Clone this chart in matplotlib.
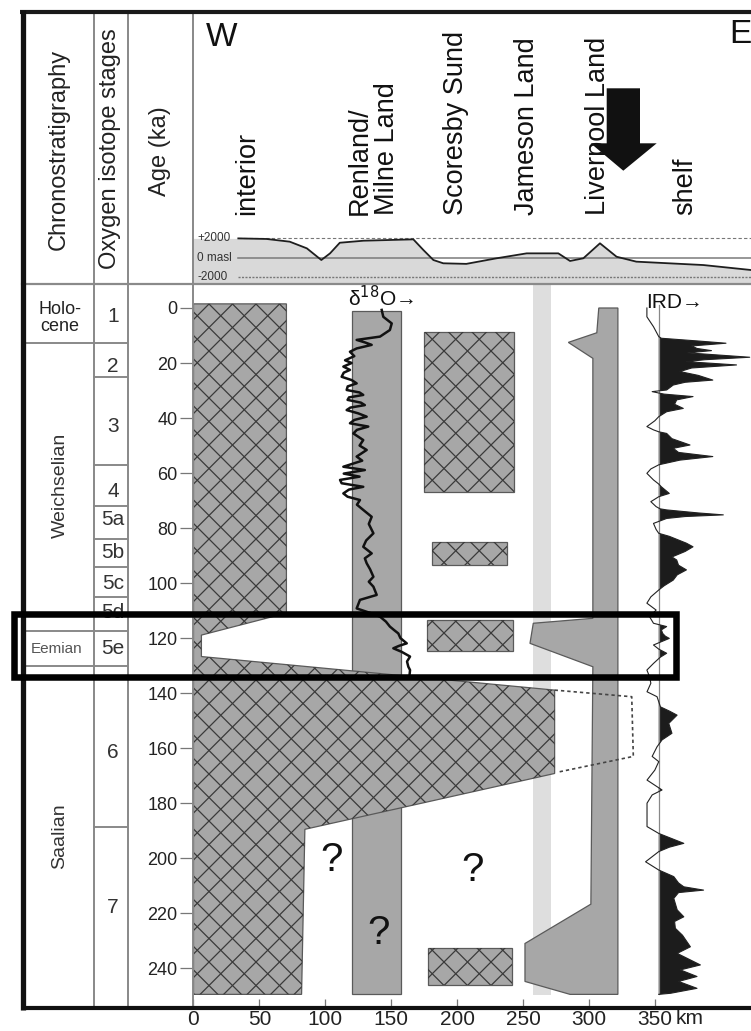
import numpy as np
import matplotlib
matplotlib.use('Agg')
import matplotlib.pyplot as plt
from matplotlib.patches import Polygon, Rectangle
from matplotlib.collections import LineCollection
from matplotlib.transforms import IdentityTransform
from matplotlib.lines import Line2D

plt.rcParams['font.family'] = ['Liberation Sans', 'DejaVu Sans']

# ------------------------------------------------------------------ data
age_ticks = [0, 20, 40, 60, 80, 100, 120, 140, 160, 180, 200, 220, 240]
km_ticks = [0, 50, 100, 150, 200, 250, 300, 350]
km_labels = ['0', '50', '100', '150', '200', '250', '300', '350']

chron_names = ['Holo-\ncene', 'Weichselian', 'Eemian', 'Saalian']
chron_label_age = [3.6, 64.3, 124.0, 192.0]
chron_bounds = [12.6, 117.3, 130.0]

stage_names = ['1', '2', '3', '4', '5a', '5b', '5c', '5d', '5e', '6', '7']
stage_label_age = [3.2, 21.1, 43.1, 66.8, 77.0, 89.0, 100.0, 110.8, 123.6, 161.6, 218.0]
stage_bounds = [12.6, 25.0, 57.0, 72.0, 84.0, 94.3, 105.0, 117.3, 130.0, 188.6]

region_names = ['interior', 'Renland/\nMilne Land', 'Scoresby Sund',
                'Jameson Land', 'Liverpool Land', 'shelf']

# topographic profile (km, m a.s.l.)
profile_km = [34, 55.5, 73, 86, 97, 103.6, 111, 129, 166.8, 174.4, 182, 189.5,
              207, 230, 252.8, 276.8, 285.7, 295.8, 308.4, 321, 336, 386.8, 424]
profile_m = [2000, 1940, 1660, 970, -240, 450, 1550, 1760, 1900, 800, -240, -580,
             -640, -60, 450, 450, -340, -60, 1490, 100, -410, -760, -1290]

# interior / Saalian ice extent (km, ka)
interior_km = [0, 70.5, 70.5, 6, 6, 274, 274, 84.5, 82, 0]
interior_ka = [-1.5, -1.5, 110.9, 118.9, 126.7, 138.9, 169.2, 189.5, 249.5, 249.5]
dashed_km = [274, 332.5, 333.7, 275.6]
dashed_ka = [138.9, 141.3, 163.0, 168.8]

# Scoresby Sund ice boxes
ss_left = [175.0, 181.0, 177.0, 177.7]
ss_right = [243.4, 237.6, 242.6, 241.4]
ss_top = [8.6, 85.2, 113.4, 232.8]
ss_bottom = [67.0, 93.4, 124.6, 246.0]

# Renland record bar
d18o_bar_km = [120.0, 157.2]
d18o_bar_ka = [1.0, 249.5]
# Jameson Land band
jl_band_km = [257.3, 271.2]
jl_band_ka = [-9.0, 249.7]

# Liverpool Land outline
liverpool_km = [307.5, 322, 322, 285.7, 251.5, 251.5, 301.5, 303, 255.3, 257.8,
                303, 303, 284.4, 306]
liverpool_ka = [0, 0, 249.5, 249.5, 244.8, 231, 216.7, 130.4, 121.9, 114.6,
                112.8, 18.3, 12.5, 9]

# delta18O curve
d18o_ka = [0.7, 3.2, 5.6, 8, 10.4, 11.6, 12.5, 13.4, 14.7, 15.9, 17.5, 19.0, 20.0,
           21.3, 22.5, 23.5, 25, 26.2, 27.4, 28.5, 29.8, 30.7, 31.6, 32.5, 33.4,
           34.4, 35.3, 36.2, 37.1, 38.3, 39.5, 40.7, 41.9, 43.1, 44.3, 45.6, 48,
           50, 51.6, 54, 55.5, 57.7, 58.9, 60.2, 61.3, 62.5, 63.7, 65, 66, 67.4,
           68.6, 69.8, 71.5, 73.4, 75.9, 78.5, 81.9, 84.5, 86.8, 89.2, 91, 92.8,
           95, 97.7, 99.5, 101.3, 104.3, 106.1, 109.2, 111, 112.2, 114, 115.8,
           117, 118.3, 120, 121.9, 122.8, 123.7, 125, 126.7, 128.5, 130.4, 131.6, 133]
d18o_km = [142.8, 144, 150.4, 149, 141.5, 123.8, 130, 135.2, 123.8, 118.7, 122, 115,
           120, 113.7, 118.7, 114, 112.4, 120, 123.8, 117, 116.2, 126, 128.8, 118,
           116.9, 127, 130, 119, 116.2, 125, 131.4, 122, 118.7, 132.6, 124, 121.3,
           128.8, 126, 131.4, 123.8, 128, 113.7, 130, 114, 126, 111.2, 112.4, 128.8,
           118, 113.7, 116.9, 126.3, 124, 128.8, 135.2, 133, 136.5, 131, 128.8,
           135.2, 130, 131.4, 134, 136.5, 133, 136.5, 139, 126.3, 123.8, 135,
           141.5, 146, 149, 152, 155.4, 157, 161.8, 156, 151.6, 158, 164.3, 162,
           163, 164.3, 164]

# IRD record (offset from base line, km)
ird_base_km = 353.0
ird_ka = [0, 3.2, 6.8, 10.4, 11.0, 12.0, 12.8, 13.8, 14.7, 15.5, 16.3, 17.9, 18.8,
          19.5, 20.7, 21.8, 23.1, 24.5, 26.2, 27.0, 28.0, 29.8, 30.4, 31.3, 32.2,
          33.4, 35.0, 36.5, 37.7, 39.5, 41.0, 43.1, 44.3, 45.0, 45.6, 47.5, 49.8,
          51.0, 52.5, 54.0, 55.3, 57.0, 58.5, 60.1, 62.5, 64.0, 65.0, 67.4, 68.6,
          70.4, 72.2, 73.0, 73.4, 74.5, 75.2, 75.8, 76.5, 78.3, 80.5, 81.9, 83.0,
          85.5, 86.8, 88.5, 90.5, 91.6, 93.5, 95.2, 97.0, 98.9, 101, 102.5, 105.0,
          107.3, 109.8, 112.2, 114.6, 115.8, 117.0, 118.3, 119.3, 120.1, 121.3,
          122.5, 124.0, 125.5, 127.0, 129.2, 131.6, 134, 136.4, 139.5, 141.3, 145,
          146.5, 148, 151, 154.6, 157, 159.5, 163, 164.9, 168, 171.6, 175.2, 177,
          180, 188.5, 191, 192.5, 194.6, 196, 197.6, 201.3, 204.3, 206.7, 209,
          210.4, 211.6, 212.5, 214.6, 218.8, 221.3, 223, 225.5, 228, 232.2, 234.6,
          238.8, 240.6, 243, 244.8, 247.3, 249.1, 249.5]
ird_km = [-9, -9, -4, 0, 2, 30, 51, 25, 29, 40, 22, 69, 35,
          21, 59, 25, 16, 30, 41, 20, 11, 6, -5, 4, 26,
          13.6, 12, 18.6, 6, 0, -3, -9, -4, 0, 6, 10, 23.7,
          11, 15, 41, 16, 0, -6, -9, -4, 0, 2, 8, 0,
          -6, -2, 1, 6, 30, 49, 20, 6, -4, -2, 0, 8,
          21, 26, 20, 10, 13.6, 15, 21, 14, 11, 4, 0, -6,
          -9, -2, -7, -4, 6, 2, 3, 5, 8, 2,
          -4, 0, 6, 1, -4, -9, -7, -6, -8.9, -1.3, 1.3,
          8, 13.9, 7.6, 10, 2.5, -1.3, -5, 0, -3, -8.9, 2.5, -5,
          -8.9, -8.9, 0, 8, 19, 8, 0, -10, 0, 11.4, 15,
          19, 34, 15, 11.4, 14, 19, 12, 12.6, 18, 24, 14,
          31.6, 16.4, 29, 15, 29, 9, 0]

question_km = [105.0, 211.8, 140.0]
question_ka = [200.6, 204.3, 227.3]

# ------------------------------------------------------------------ layout
W, H = 751, 1031
fig = plt.figure(figsize=(W / 100, H / 100), dpi=100)


def fx(x):
    return x / W


def fy(y):
    return 1 - y / H


X0, PXKM = 193.5, 1.318
Y_TOP, Y_BOT, Y_ZERO, PXKA = 283.0, 1006.7, 308.0, 2.751
KM_MAX = (W - X0) / PXKM
KA_TOP = -(Y_ZERO - Y_TOP) / PXKA
KA_BOT = (Y_BOT - Y_ZERO) / PXKA
HDR_TOP = 13.0
M_PER_PX = 103.6
ELEV_BOT = (257.7 - Y_TOP) * M_PER_PX
ELEV_TOP = (257.7 - HDR_TOP) * M_PER_PX

ax = fig.add_axes([fx(X0), fy(Y_BOT), fx(W) - fx(X0), fy(Y_TOP) - fy(Y_BOT)])
axh = fig.add_axes([fx(X0), fy(Y_TOP), fx(W) - fx(X0), fy(HDR_TOP) - fy(Y_TOP)])
axl = fig.add_axes([fx(22), fy(Y_BOT), fx(X0) - fx(22), fy(Y_TOP) - fy(Y_BOT)])
for a in (ax, axh, axl):
    a.patch.set_alpha(0)
    for s in a.spines.values():
        s.set_visible(False)

GRAY = '#a7a7a7'
EDGE = '#5a5a5a'
HATCH = '#3a3a3a'


def hatched(verts, period=23.5):
    poly = Polygon(verts, closed=True, facecolor=GRAY, edgecolor=EDGE, lw=0.9, zorder=2)
    ax.add_patch(poly)
    segs = []
    for c in np.arange(-H - 4, W + H, period):
        segs.append([(c, 0), (c + H, H)])
        segs.append([(c, H), (c + H, 0)])
    lc = LineCollection(segs, colors=HATCH, linewidths=0.9,
                        transform=IdentityTransform(), zorder=2.1)
    ax.add_collection(lc, autolim=False)
    lc.set_clip_path(poly)


# ------------------------------------------------------------------ main panel
# Jameson Land light band
ax.add_patch(Rectangle((jl_band_km[0], jl_band_ka[0]), jl_band_km[1] - jl_band_km[0],
                       jl_band_ka[1] - jl_band_ka[0], facecolor='#dedede',
                       edgecolor='none', zorder=1))
# Renland bar
ax.add_patch(Rectangle((d18o_bar_km[0], d18o_bar_ka[0]), d18o_bar_km[1] - d18o_bar_km[0],
                       d18o_bar_ka[1] - d18o_bar_ka[0], facecolor=GRAY,
                       edgecolor=EDGE, lw=0.9, zorder=1.5))
# Liverpool Land
ax.add_patch(Polygon(list(zip(liverpool_km, liverpool_ka)), closed=True,
                     facecolor=GRAY, edgecolor=EDGE, lw=0.9, zorder=1.5))
# interior ice
hatched(list(zip(interior_km, interior_ka)))
# Scoresby Sund boxes
for l, r, t, b in zip(ss_left, ss_right, ss_top, ss_bottom):
    hatched([(l, t), (r, t), (r, b), (l, b)])
# dashed extent
ax.plot(dashed_km, dashed_ka, color='#444444', lw=1.2, ls=(0, (2, 1.8)), zorder=3)

# delta18O
ax.plot(d18o_km, d18o_ka, color='#111111', lw=1.8, zorder=4, solid_joinstyle='round')

# IRD
ird_x = np.array(ird_km) + ird_base_km
ax.fill_betweenx(ird_ka, ird_base_km, ird_x, where=np.array(ird_km) > 0,
                 interpolate=True, color='#1c1c1c', lw=0, zorder=3)
ax.plot(ird_x, ird_ka, color='#222222', lw=0.8, zorder=3.5)
ax.plot([ird_base_km, ird_base_km], [-1.0, 249.5], color='#888888', lw=0.9, zorder=3.2)

for qx, qy in zip(question_km, question_ka):
    ax.text(qx, qy, '?', fontsize=29, ha='center', va='center', color='#111111', zorder=5)

ax.text(348, 300, '', transform=IdentityTransform())

ax.set_xlim(0, KM_MAX)
ax.set_ylim(KA_BOT, KA_TOP)
ax.set_yticks(age_ticks)
ax.set_yticklabels([str(a) for a in age_ticks])
ax.set_xticks(km_ticks)
ax.set_xticklabels(km_labels)
ax.tick_params(axis='y', direction='out', length=9.5, width=0.9, color='#777777',
               labelsize=13, pad=2, labelcolor='#222222')
ax.tick_params(axis='x', direction='in', length=5.5, width=0.9, color='#777777',
               labelsize=15, pad=2.5, labelcolor='#222222')

# labels in figure pixel coordinates
fig.text(fx(348), fy(298), r'δ$^{18}$O→', fontsize=15, ha='left', va='center', color='#111111')
fig.text(fx(646), fy(302), 'IRD→', fontsize=15, ha='left', va='center', color='#111111')
fig.text(fx(676), fy(1009.5), 'km', fontsize=15, ha='left', va='top', color='#222222')

# ------------------------------------------------------------------ header panel
axh.set_xlim(0, KM_MAX)
axh.set_ylim(ELEV_BOT, ELEV_TOP)
axh.set_xticks([])
axh.set_yticks([])
fill_km = [0] + profile_km
fill_m = [profile_m[0]] + profile_m
axh.fill_between(fill_km, ELEV_BOT, fill_m, color='#d9d9d9', lw=0, zorder=1)
axh.plot([34, KM_MAX], [2000, 2000], color='#777777', lw=0.8, ls=(0, (3, 2)), zorder=2)
axh.plot([34, KM_MAX], [0, 0], color='#7a7a7a', lw=1.1, zorder=2)
axh.plot([34, KM_MAX], [-2000, -2000], color='#777777', lw=1.0, ls=(0, (1.5, 1)), zorder=2)
axh.plot(profile_km, profile_m, color='#1e1e1e', lw=1.3, zorder=3)

for t, yy in [('+2000', 238), ('0 masl', 258), ('-2000', 277)]:
    fig.text(fx(197), fy(yy), t, fontsize=8.5, ha='left', va='center', color='#333333')

region_px = [247.3, 373.0, 455.7, 526.7, 598.3, 685.0]
for name, xp in zip(region_names, region_px):
    fig.text(fx(xp), fy(215), name, rotation=90, fontsize=19.5, ha='center',
             va='bottom', multialignment='left', linespacing=1.05, color='#111111')
fig.text(fx(206), fy(22), 'W', fontsize=24, ha='left', va='top', color='#111111')
fig.text(fx(729), fy(19), 'E', fontsize=24, ha='left', va='top', color='#111111')

# big arrow
arrow_px = [(606.7, 88.3), (640, 88.3), (640, 143.3), (656.7, 143.3), (623.3, 170.7),
            (590.7, 143.3), (606.7, 143.3)]
fig.add_artist(Polygon([(fx(x), fy(y)) for x, y in arrow_px], closed=True,
                       transform=fig.transFigure, facecolor='#111111',
                       edgecolor='none', zorder=6))

# ------------------------------------------------------------------ left columns
axl.set_xlim(22, X0)
axl.set_ylim(KA_BOT, KA_TOP)
axl.set_xticks([])
axl.set_yticks([])
axl.hlines(chron_bounds, 22, 93, color='#808080', lw=1.3)
axl.hlines(stage_bounds, 93, 128, color='#808080', lw=1.3)
for name, a in zip(chron_names, chron_label_age):
    if name == 'Holo-\ncene':
        axl.text(60, a, name, fontsize=13, ha='center', va='center', linespacing=1.0,
                 color='#222222')
    elif name == 'Eemian':
        axl.text(57, a, name, fontsize=11, ha='center', va='center', color='#555555')
    else:
        axl.text(60, a, name, fontsize=14, rotation=90, ha='center', va='center',
                 color='#333333')
for name, a in zip(stage_names, stage_label_age):
    axl.text(113, a, name, fontsize=15, ha='center', va='center', color='#333333')

fig.text(fx(58.3), fy(149), 'Chronostratigraphy', rotation=90, fontsize=17,
         ha='center', va='center', color='#222222')
fig.text(fx(110), fy(149), 'Oxygen isotope stages', rotation=90, fontsize=17,
         ha='center', va='center', color='#222222')
fig.text(fx(160), fy(151), 'Age (ka)', rotation=90, fontsize=17,
         ha='center', va='center', color='#222222')


# ------------------------------------------------------------------ frame lines
def fline(xs, ys, **kw):
    fig.add_artist(Line2D([fx(x) for x in xs], [fy(y) for y in ys],
                          transform=fig.transFigure, **kw))


for xv in (93.5, 128, X0):
    fline([xv, xv], [12, 1007], color='#888888', lw=1.4, zorder=4)
fline([22, W], [284, 284], color='#8a8a8a', lw=1.6, zorder=4)
fline([20, W], [12, 12], color='#1a1a1a', lw=3.0, zorder=5, solid_capstyle='butt')
fline([22.5, 22.5], [10, 1009.5], color='#111111', lw=3.8, zorder=5, solid_capstyle='butt')
fline([20.6, W], [1007.5, 1007.5], color='#111111', lw=3.0, zorder=5, solid_capstyle='butt')

# highlight box
fig.add_artist(Rectangle((fx(14.3), fy(676.7)), fx(676) - fx(14.3), fy(614) - fy(676.7),
                         transform=fig.transFigure, fill=False, edgecolor='#000000',
                         lw=4.7, zorder=10))

fig.savefig('out.png', dpi=100)
